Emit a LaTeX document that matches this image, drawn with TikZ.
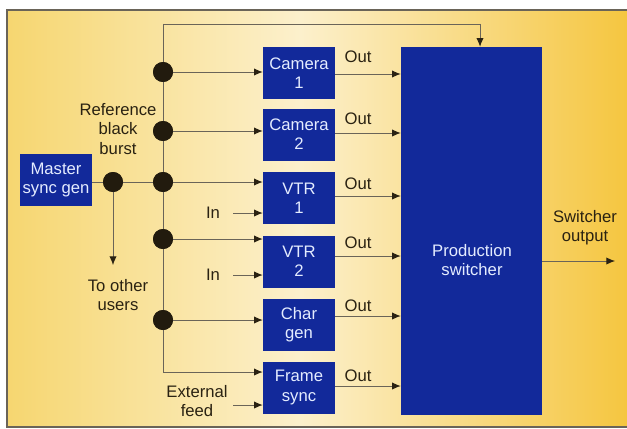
\documentclass[tikz,border=0pt]{standalone}
\usepackage{fontspec}
\setmainfont{Liberation Sans}
\usetikzlibrary{arrows.meta,calc}
\definecolor{boxblue}{HTML}{12299A}
\definecolor{boxtext}{HTML}{E4ECFF}
\definecolor{ink}{HTML}{2A2212}
\definecolor{wire}{HTML}{6A6458}
\definecolor{yelL}{HTML}{F6D670}
\definecolor{yelM}{HTML}{FCF0CC}
\definecolor{yelR}{HTML}{F5C640}
\begin{document}
\begin{tikzpicture}[x=0.75pt,y=-0.75pt,
  font=\fontsize{12.5}{14.5}\selectfont,
  blk/.style={fill=boxblue,text=boxtext,align=center,inner sep=0pt,minimum width=54pt,minimum height=39pt},
  lbl/.style={text=ink,align=center,inner sep=0pt},
  wr/.style={draw=wire,line width=0.7pt},
  arr/.style={wr,-{Latex[length=6.5pt,width=5.5pt,color=ink]}},
  dot/.style={circle,fill=ink!80!black,minimum size=15pt,inner sep=0pt}]
\useasboundingbox (0,0) rectangle (627,428);
\fill[white] (0,0) rectangle (627,428);
\shade[left color=yelL,right color=yelM,shading angle=90] (7,10) rectangle (300,427);
\shade[left color=yelM,right color=yelR,shading angle=90] (300,10) rectangle (627,427);
\draw[wire,line width=0.8pt] (627,10) -- (7,10) -- (7,427) -- (627,427);

% blocks
\node[blk] (ms) at (56,180) {Master\\sync gen};
\node[blk] (c1) at (299,73) {Camera\\1};
\node[blk] (c2) at (299,134.5) {Camera\\2};
\node[blk] (v1) at (299,198) {VTR\\1};
\node[blk] (v2) at (299,261.5) {VTR\\2};
\node[blk] (cg) at (299,324.5) {Char\\gen};
\node[blk] (fs) at (299,387.5) {Frame\\sync};
\node[blk,minimum width=105.75pt,minimum height=276pt] (sw) at (471.5,231) {};
\node[lbl,text=boxtext] (swl) at (472,260) {Production\\switcher};

% coordinates
\coordinate (top) at (163,24);
\coordinate (topR) at (480,24);
\coordinate (corner) at (163,372);
\coordinate (tou) at (113,265);
\coordinate (in1) at (233,213);
\coordinate (in2) at (233,275);
\coordinate (ext) at (233,405);
\coordinate (so) at (615,261);

% dots
\node[dot] (d1) at (163,72) {};
\node[dot] (d2) at (163,131) {};
\node[dot] (d3) at (163,182) {};
\node[dot] (d4) at (163,239) {};
\node[dot] (d5) at (163,320) {};
\node[dot] (md) at (113,182) {};

% wires
\draw[wr] (top) -- (corner);
\draw[arr] (corner) -- (corner -| fs.west);
\draw[wr] (top) -- (topR);
\draw[arr] (topR) -- (topR |- sw.north);
\draw[wr] (ms.east |- md) -- (md) -- (d3);
\draw[arr] (md) -- (tou);
\foreach \d/\b in {d1/c1,d2/c2,d3/v1,d4/v2,d5/cg}
  \draw[arr] (\d) -- (\d -| \b.west);
\draw[arr] (in1) -- (in1 -| v1.west);
\draw[arr] (in2) -- (in2 -| v2.west);
\draw[arr] (ext) -- (ext -| fs.west);
\foreach \b/\y in {c1/74,c2/133,v1/196,v2/256,cg/316,fs/386}
  \draw[arr] (\b.east |- 0,\y) -- (sw.west |- 0,\y);
\draw[arr] (sw.east |- so) -- (so);

% dots on top of wires
\foreach \x/\y in {163/72,163/131,163/182,163/239,163/320,113/182}
  \fill[ink!80!black] (\x,\y) circle (7.5pt);

% labels
\node[lbl] (rbb) at (118,129) {Reference\\black\\burst};
\node[lbl] (toul) at (118,295) {To other\\users};
\node[lbl] (in1l) at (213,213) {In};
\node[lbl] (in2l) at (213,275) {In};
\node[lbl] (extl) at (197,401) {External\\feed};
\node[lbl] (swol) at (585,228) {Switcher\\output};
\foreach \i/\y in {1/57,2/119,3/184,4/243,5/306,6/376}
  \node[lbl] (out\i) at (358,\y) {Out};
\end{tikzpicture}
\end{document}
